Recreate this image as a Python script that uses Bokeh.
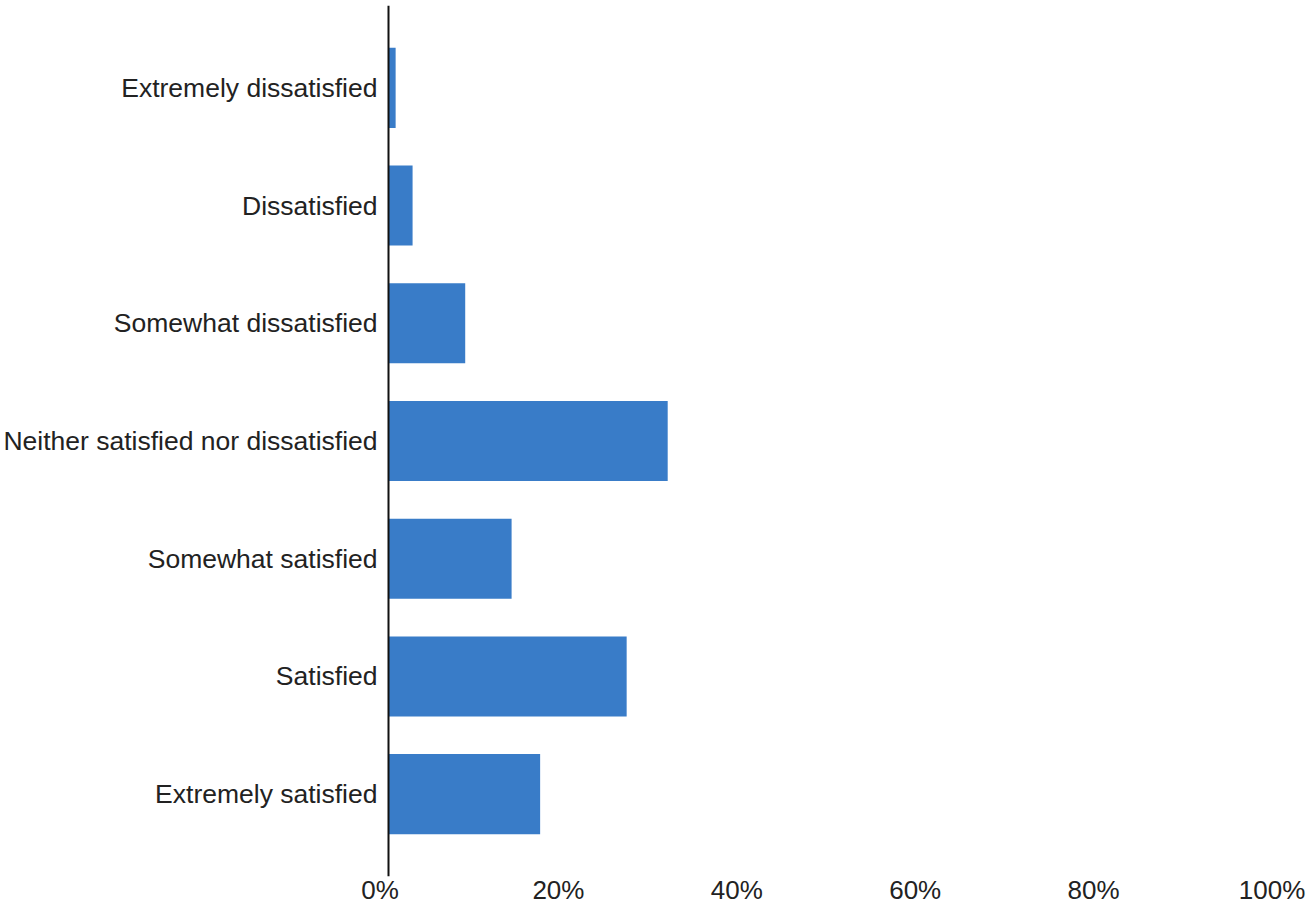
from bokeh.plotting import figure
from bokeh.models import Range1d, FixedTicker, LinearAxis, ColumnDataSource, Span
from bokeh.embed import file_html
from bokeh.resources import INLINE

categories = [
    "Extremely dissatisfied",
    "Dissatisfied",
    "Somewhat dissatisfied",
    "Neither satisfied nor dissatisfied",
    "Somewhat satisfied",
    "Satisfied",
    "Extremely satisfied",
]
values = [0.8, 2.7, 8.6, 31.3, 13.8, 26.7, 17.0]
x_ticks = [0, 20, 40, 60, 80, 100]
x_tick_labels = ["0%", "20%", "40%", "60%", "80%", "100%"]

FONT = "Liberation Sans"
TEXT = "#222222"
BAR = "#397cc8"

W, H = 1307, 907
px_per_pct = 8.92
axis_px = 388
x_start = -1.0
left_border = int(round(axis_px + x_start * px_per_pct))
x_start = (left_border - axis_px) / px_per_pct
x_end = (W - axis_px) / px_per_pct
shift = 8.5 / px_per_pct

positions = list(range(len(categories)))
src = ColumnDataSource(dict(y=positions, v=values, cat=categories))

p = figure(width=W, height=H, output_backend="svg", toolbar_location=None,
           x_range=Range1d(x_start, x_end), y_range=Range1d(6 + 0.70, -0.70),
           x_axis_location=None, min_border_left=left_border, min_border_right=0,
           min_border_top=5, min_border_bottom=31)
p.extra_x_ranges = {"lab": Range1d(x_start + shift, x_end + shift)}

p.hbar(y="y", left=0, right="v", height=0.68, source=src, fill_color=BAR, line_color=None)
p.add_layout(Span(location=0, dimension="height", line_color="#111111", line_width=2))

xa = LinearAxis(x_range_name="lab")
xa.ticker = FixedTicker(ticks=x_ticks)
xa.major_label_overrides = {t: l for t, l in zip(x_ticks, x_tick_labels)}
xa.axis_line_color = None
xa.major_tick_line_color = None
xa.minor_tick_line_color = None
xa.major_tick_out = 0
xa.major_tick_in = 0
xa.major_label_standoff = -2
xa.major_label_text_font = FONT
xa.major_label_text_font_size = "26px"
xa.major_label_text_color = TEXT
p.add_layout(xa, "below")

ya = p.yaxis[0]
ya.ticker = FixedTicker(ticks=positions)
ya.major_label_overrides = {i: c for i, c in zip(positions, categories)}
ya.axis_line_color = None
ya.major_tick_line_color = None
ya.minor_tick_line_color = None
ya.major_tick_out = 0
ya.major_tick_in = 0
ya.major_label_standoff = 2
ya.major_label_text_font = FONT
ya.major_label_text_font_size = "26.5px"
ya.major_label_text_color = TEXT

p.grid.visible = False
p.outline_line_color = None
p.background_fill_color = "white"
p.border_fill_color = "white"

open("out.html", "w").write(file_html(p, INLINE))
